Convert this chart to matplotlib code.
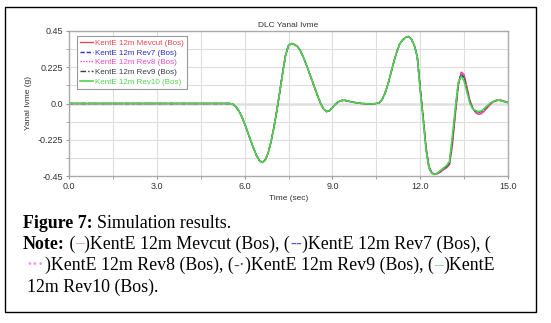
import matplotlib
matplotlib.use("Agg")
import matplotlib.pyplot as plt
from matplotlib.patches import Rectangle
from matplotlib.offsetbox import TextArea, HPacker, AnnotationBbox
from matplotlib.ticker import MultipleLocator

# sample times (sec)
time = [0.0, 5.4, 5.5, 5.6, 5.7, 5.8, 5.9, 6.0, 6.1, 6.2, 6.3, 6.4, 6.5, 6.6, 6.7, 6.8, 6.9,
        7.0, 7.1, 7.2, 7.3, 7.4, 7.5, 7.6, 7.7, 7.8, 7.9, 8.0, 8.1, 8.2, 8.3, 8.4, 8.5, 8.6,
        8.7, 8.8, 8.9, 9.0, 9.1, 9.2, 9.3, 9.4, 9.5, 9.6, 9.8, 10.0, 10.3, 10.5, 10.6, 10.7,
        10.8, 10.9, 11.0, 11.1, 11.2, 11.3, 11.4, 11.5, 11.6, 11.7, 11.8, 11.9,
        12.0, 12.1, 12.2, 12.3, 12.4, 12.5, 12.6, 12.7, 12.8, 12.9, 13.0, 13.1, 13.2, 13.3,
        13.4, 13.5, 13.6, 13.7, 13.8, 13.9, 14.0, 14.1, 14.2, 14.3, 14.4, 14.5, 14.6, 14.7,
        14.8, 14.9, 15.0]

# common part of all runs, 0 .. 11.9 s
common = [0.0, 0.0, 0.0, -0.005, -0.02, -0.045, -0.08, -0.125, -0.175, -0.225, -0.275, -0.32,
          -0.352, -0.366, -0.352, -0.31, -0.24, -0.15, -0.045, 0.07, 0.19, 0.30, 0.36, 0.373,
          0.366, 0.355, 0.33, 0.29, 0.245, 0.195, 0.145, 0.095, 0.045, 0.0, -0.035, -0.05,
          -0.045, -0.025, -0.005, 0.01, 0.018, 0.02, 0.017, 0.012, 0.005, 0.0, -0.003, 0.0,
          0.005, 0.025, 0.065, 0.12, 0.19, 0.26, 0.32, 0.37, 0.395, 0.41, 0.416, 0.40, 0.36,
          0.29]

# 12.0 .. 15.0 s, where the runs differ
tail_mevcut = [0.10, -0.08, -0.27, -0.39, -0.43, -0.44, -0.435, -0.425, -0.41, -0.40, -0.38,
               -0.26, -0.07, 0.11, 0.195, 0.18, 0.10, 0.02, -0.03, -0.058, -0.068, -0.062,
               -0.045, -0.025, -0.005, 0.01, 0.018, 0.021, 0.019, 0.013, 0.007]
tail_rev7 = [0.09, -0.09, -0.28, -0.40, -0.432, -0.44, -0.432, -0.42, -0.405, -0.392, -0.37,
             -0.23, -0.05, 0.12, 0.185, 0.16, 0.085, 0.01, -0.032, -0.05, -0.055, -0.05,
             -0.035, -0.016, 0.0, 0.012, 0.019, 0.02, 0.017, 0.011, 0.006]
tail_rev8 = [0.10, -0.08, -0.27, -0.39, -0.43, -0.44, -0.434, -0.423, -0.41, -0.398, -0.378,
             -0.25, -0.06, 0.115, 0.19, 0.175, 0.095, 0.015, -0.03, -0.056, -0.065, -0.06,
             -0.043, -0.022, -0.003, 0.011, 0.018, 0.021, 0.018, 0.012, 0.006]
tail_rev9 = [0.09, -0.09, -0.28, -0.40, -0.433, -0.44, -0.432, -0.418, -0.403, -0.39, -0.368,
             -0.22, -0.045, 0.125, 0.18, 0.155, 0.08, 0.005, -0.033, -0.048, -0.053, -0.048,
             -0.033, -0.015, 0.001, 0.012, 0.019, 0.02, 0.016, 0.01, 0.005]
tail_rev10 = [0.08, -0.10, -0.29, -0.40, -0.435, -0.44, -0.43, -0.415, -0.40, -0.385, -0.36,
              -0.20, -0.03, 0.13, 0.17, 0.14, 0.07, 0.0, -0.035, -0.045, -0.05, -0.045,
              -0.03, -0.012, 0.003, 0.013, 0.019, 0.02, 0.016, 0.01, 0.005]

labels = ["KentE 12m Mevcut (Bos)", "KentE 12m Rev7 (Bos)", "KentE 12m Rev8 (Bos)",
          "KentE 12m Rev9 (Bos)", "KentE 12m Rev10 (Bos)"]
tails = [tail_mevcut, tail_rev7, tail_rev8, tail_rev9, tail_rev10]
colors = ["#e8474f", "#2b2bb8", "#e64bc7", "#3a3a4a", "#4ed44e"]
styles = ["-", (0, (3, 1.5)), (0, (1, 1)), (0, (4, 1.5, 1, 1.5)), "-"]
widths = [1.0, 1.0, 1.0, 1.0, 1.2]

W, H = 551, 323
fig = plt.figure(figsize=(W / 100, H / 100), dpi=100)
ax = fig.add_axes([69 / W, 1 - 176 / H, (508 - 69) / W, (176 - 31) / H])

ax.axhline(0, color="#8c8c8c", lw=1.0, zorder=1)
for lab, tail, c, ls, lw in zip(labels, tails, colors, styles, widths):
    ax.plot(time, common + tail, color=c, ls=ls, lw=lw, label=lab, zorder=2)

ax.set_xlim(0, 15)
ax.set_ylim(-0.45, 0.45)
ax.set_xticks([0, 3, 6, 9, 12, 15])
ax.set_xticklabels(["0.0", "3.0", "6.0", "9.0", "12.0", "15.0"])
ax.set_yticks([-0.45, -0.225, 0, 0.225, 0.45])
ax.set_yticklabels(["-0.45", "-0.225", "0.0", "0.225", "0.45"])
ax.xaxis.set_minor_locator(MultipleLocator(1.5))
ax.yaxis.set_minor_locator(MultipleLocator(0.1125))
ax.grid(which="both", color="#dedede", lw=0.8, zorder=0)
ax.tick_params(which="both", length=2.5, color="#999999", labelsize=6.5,
               labelcolor="#333333", pad=2)
for s in ax.spines.values():
    s.set_color("#aaaaaa")
    s.set_linewidth(1.0)

sans = ["Liberation Sans", "DejaVu Sans"]
ax.set_title("DLC Yanal Ivme", fontsize=6, family=sans, color="#333333", pad=3)
ax.set_xlabel("Time (sec)", fontsize=6, family=sans, color="#333333", labelpad=3)
ax.set_ylabel("Yanal Ivme (g)", fontsize=6, family=sans, color="#333333", labelpad=3)
ax.yaxis.set_label_coords(-(69 - 31.5) / (508 - 69), 0.5)
for t in ax.get_xticklabels() + ax.get_yticklabels():
    t.set_family(sans)

leg = ax.legend(loc="upper left", bbox_to_anchor=(0.018, 0.966), borderaxespad=0,
                prop={"family": sans, "size": 5.8}, labelcolor="linecolor",
                handlelength=1.6, handletextpad=0.2, labelspacing=0.26, borderpad=0.4,
                fancybox=False, framealpha=1)
leg.get_frame().set_edgecolor("#999999")
leg.get_frame().set_linewidth(0.8)

# outer frame
fig.patches.append(Rectangle((5 / W, 1 - 312 / H), (536 - 5) / W, (312 - 7) / H,
                             transform=fig.transFigure, fill=False, ec="black", lw=1.0))

serif = "Liberation Serif"
fs = 12.9


def caption_line(x, y, pieces):
    areas = [TextArea(txt, textprops=dict(family=serif, fontsize=fs, color=col,
                                          fontweight=wt))
             for txt, col, wt in pieces]
    box = HPacker(children=areas, align="baseline", pad=0, sep=0)
    ab = AnnotationBbox(box, (x, H - y), xycoords="figure pixels", box_alignment=(0, 0.5),
                        frameon=False, pad=0)
    fig.add_artist(ab)


k = "black"
caption_line(23, 223, [("Figure 7: ", k, "bold"), ("Simulation results.", k, "normal")])
caption_line(23, 244, [("Note:", k, "bold"), (" (", k, "normal"), ("\u2013", "#f09090", "normal"),
                       (")KentE 12m Mevcut (Bos), (", k, "normal"), ("--", "#5050c0", "normal"),
                       (")KentE 12m Rev7 (Bos), (", k, "normal")])
caption_line(27, 265, [("\u00b7\u00b7\u00b7", "#f0a0e0", "bold"),
                       (")KentE 12m Rev8 (Bos), (", k, "normal"), ("-\u00b7", "#505060", "normal"),
                       (")KentE 12m Rev9 (Bos), (", k, "normal"), ("\u2013", "#90e090", "bold"),
                       (")KentE", k, "normal")])
caption_line(27, 287, [("12m Rev10 (Bos).", k, "normal")])

fig.savefig("out.png", dpi=100)
